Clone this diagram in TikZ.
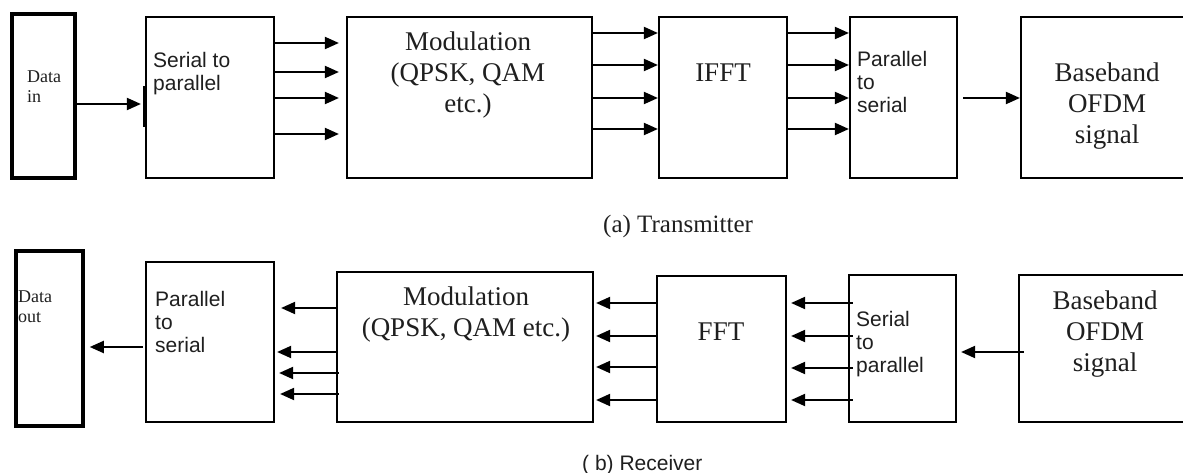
\documentclass[tikz,border=0pt]{standalone}
\usepackage{fontspec}
\setmainfont{Liberation Serif}
\newfontfamily\arialf{Liberation Sans}
\usetikzlibrary{arrows.meta}
\newcommand\linesC[1]{\vtop{\halign{\hfil##\hfil\cr#1\crcr}}}
\newcommand\linesL[1]{\vtop{\halign{##\hfil\cr#1\crcr}}}
\begin{document}
\begin{tikzpicture}[x=1pt,y=-1pt,
  blk/.style={draw, line width=2.2pt, inner sep=0pt, rectangle},
  thk/.style={draw, line width=3.5pt, inner sep=0pt, rectangle},
  arr/.style={line width=2pt, -{Triangle[length=14pt,width=12pt]}},
  srf/.style={font=\fontsize{27}{31}\selectfont, text=black!88, inner sep=0pt, anchor=base},
  sml/.style={font=\fontsize{18}{20}\selectfont, text=black!88, inner sep=0pt, anchor=base west},
  ssf/.style={font=\arialf\fontsize{21}{23}\selectfont, text=black!88, inner sep=0pt, anchor=base west},
]
\fill[white] (0,0) rectangle (1183,473);
\useasboundingbox (0,0) rectangle (1183,473);
\clip (0,0) rectangle (1183,473);

% ---------- transmitter ----------
\node[thk, minimum width=63pt, minimum height=164pt] (din) at (43.5,96) {};
\node[blk, minimum width=128pt, minimum height=161pt] (s2p) at (210,97.5) {};
\node[blk, minimum width=245pt, minimum height=161pt] (mod) at (469.5,97.5) {};
\node[blk, minimum width=128pt, minimum height=161pt] (ifft) at (723,97.5) {};
\node[blk, minimum width=107pt, minimum height=161pt] (p2s) at (903.5,97.5) {};
\node[blk, minimum width=179pt, minimum height=161pt] (bb) at (1110.5,97.5) {};

\draw[arr, shorten >=4pt] (din.east |- 0,104) -- (s2p.west |- 0,104);
\draw[line width=3.5pt] (s2p.west |- 0,86) -- (s2p.west |- 0,127);
\foreach \yy in {43,72,98,134}
  \draw[arr, shorten >=7pt] (s2p.east |- 0,\yy) -- (mod.west |- 0,\yy);
\foreach \yy in {33,65,98,129}
  \draw[arr] (mod.east |- 0,\yy) -- (ifft.west |- 0,\yy);
\foreach \yy in {33,65,98,129}
  \draw[arr] (ifft.east |- 0,\yy) -- (p2s.west |- 0,\yy);
\draw[arr, shorten <=5pt] (p2s.east |- 0,98) -- (bb.west |- 0,98);

\node[sml] (tdin) at (27,83) {\linesL{Data\cr in}};
\node[ssf] (ts2p) at (153,68) {\linesL{Serial to\cr parallel}};
\node[srf] (tmod) at (468,51) {\linesC{Modulation\cr (QPSK, QAM\cr etc.)}};
\node[srf] (tifft) at (723,82) {IFFT};
\node[ssf] (tp2s) at (857,67) {\linesL{Parallel\cr to\cr serial}};
\node[srf] (tbb) at (1107,82) {\linesC{Baseband\cr OFDM\cr signal}};
\node[font=\fontsize{25}{28}\selectfont, text=black!88, inner sep=0pt, anchor=base west] (capa) at (603,233) {(a) Transmitter};

% ---------- receiver ----------
\node[thk, minimum width=67pt, minimum height=175pt] (dout) at (49.5,338.5) {};
\node[blk, minimum width=128pt, minimum height=160pt] (p2sr) at (210,342) {};
\node[blk, minimum width=256pt, minimum height=150pt] (modr) at (465,347) {};
\node[blk, minimum width=129pt, minimum height=146pt] (fft) at (721.5,349) {};
\node[blk, minimum width=107pt, minimum height=147pt] (s2pr) at (902.5,348.5) {};
\node[blk, minimum width=181pt, minimum height=147pt] (bbr) at (1109.5,348.5) {};

\draw[arr, shorten <=-6pt, shorten >=4pt] (bbr.west |- 0,352) -- (s2pr.east |- 0,352);
\foreach \yy in {303,336,368,400}
  \draw[arr, shorten <=-5pt, shorten >=4pt] (s2pr.west |- 0,\yy) -- (fft.east |- 0,\yy);
\foreach \yy in {303,336,367,400}
  \draw[arr, shorten >=2pt] (fft.west |- 0,\yy) -- (modr.east |- 0,\yy);
\draw[arr, shorten >=6pt] (modr.west |- 0,308) -- (p2sr.east |- 0,308);
\draw[arr, shorten >=2pt] (modr.west |- 0,352) -- (p2sr.east |- 0,352);
\draw[arr, shorten <=-3pt, shorten >=4pt] (modr.west |- 0,373) -- (p2sr.east |- 0,373);
\draw[arr, shorten <=-3pt, shorten >=5pt] (modr.west |- 0,394) -- (p2sr.east |- 0,394);
\draw[arr, shorten <=2pt, shorten >=5pt] (p2sr.west |- 0,347) -- (dout.east |- 0,347);

\node[sml] (tdout) at (18,302) {\linesL{Data\cr out}};
\node[ssf] (tp2sr) at (155,306) {\linesL{Parallel\cr to\cr serial}};
\node[srf] (tmodr) at (466,305) {\linesC{Modulation\cr (QPSK, QAM etc.)}};
\node[srf] (tfft) at (721,340) {FFT};
\node[ssf] (ts2pr) at (856,326) {\linesL{Serial\cr to\cr parallel}};
\node[srf] (tbbr) at (1105,309) {\linesC{Baseband\cr OFDM\cr signal}};
\node[font=\arialf\fontsize{21}{23}\selectfont, text=black!88, inner sep=0pt, anchor=base west] (capb) at (582,470) {( b) Receiver};
\end{tikzpicture}
\end{document}
